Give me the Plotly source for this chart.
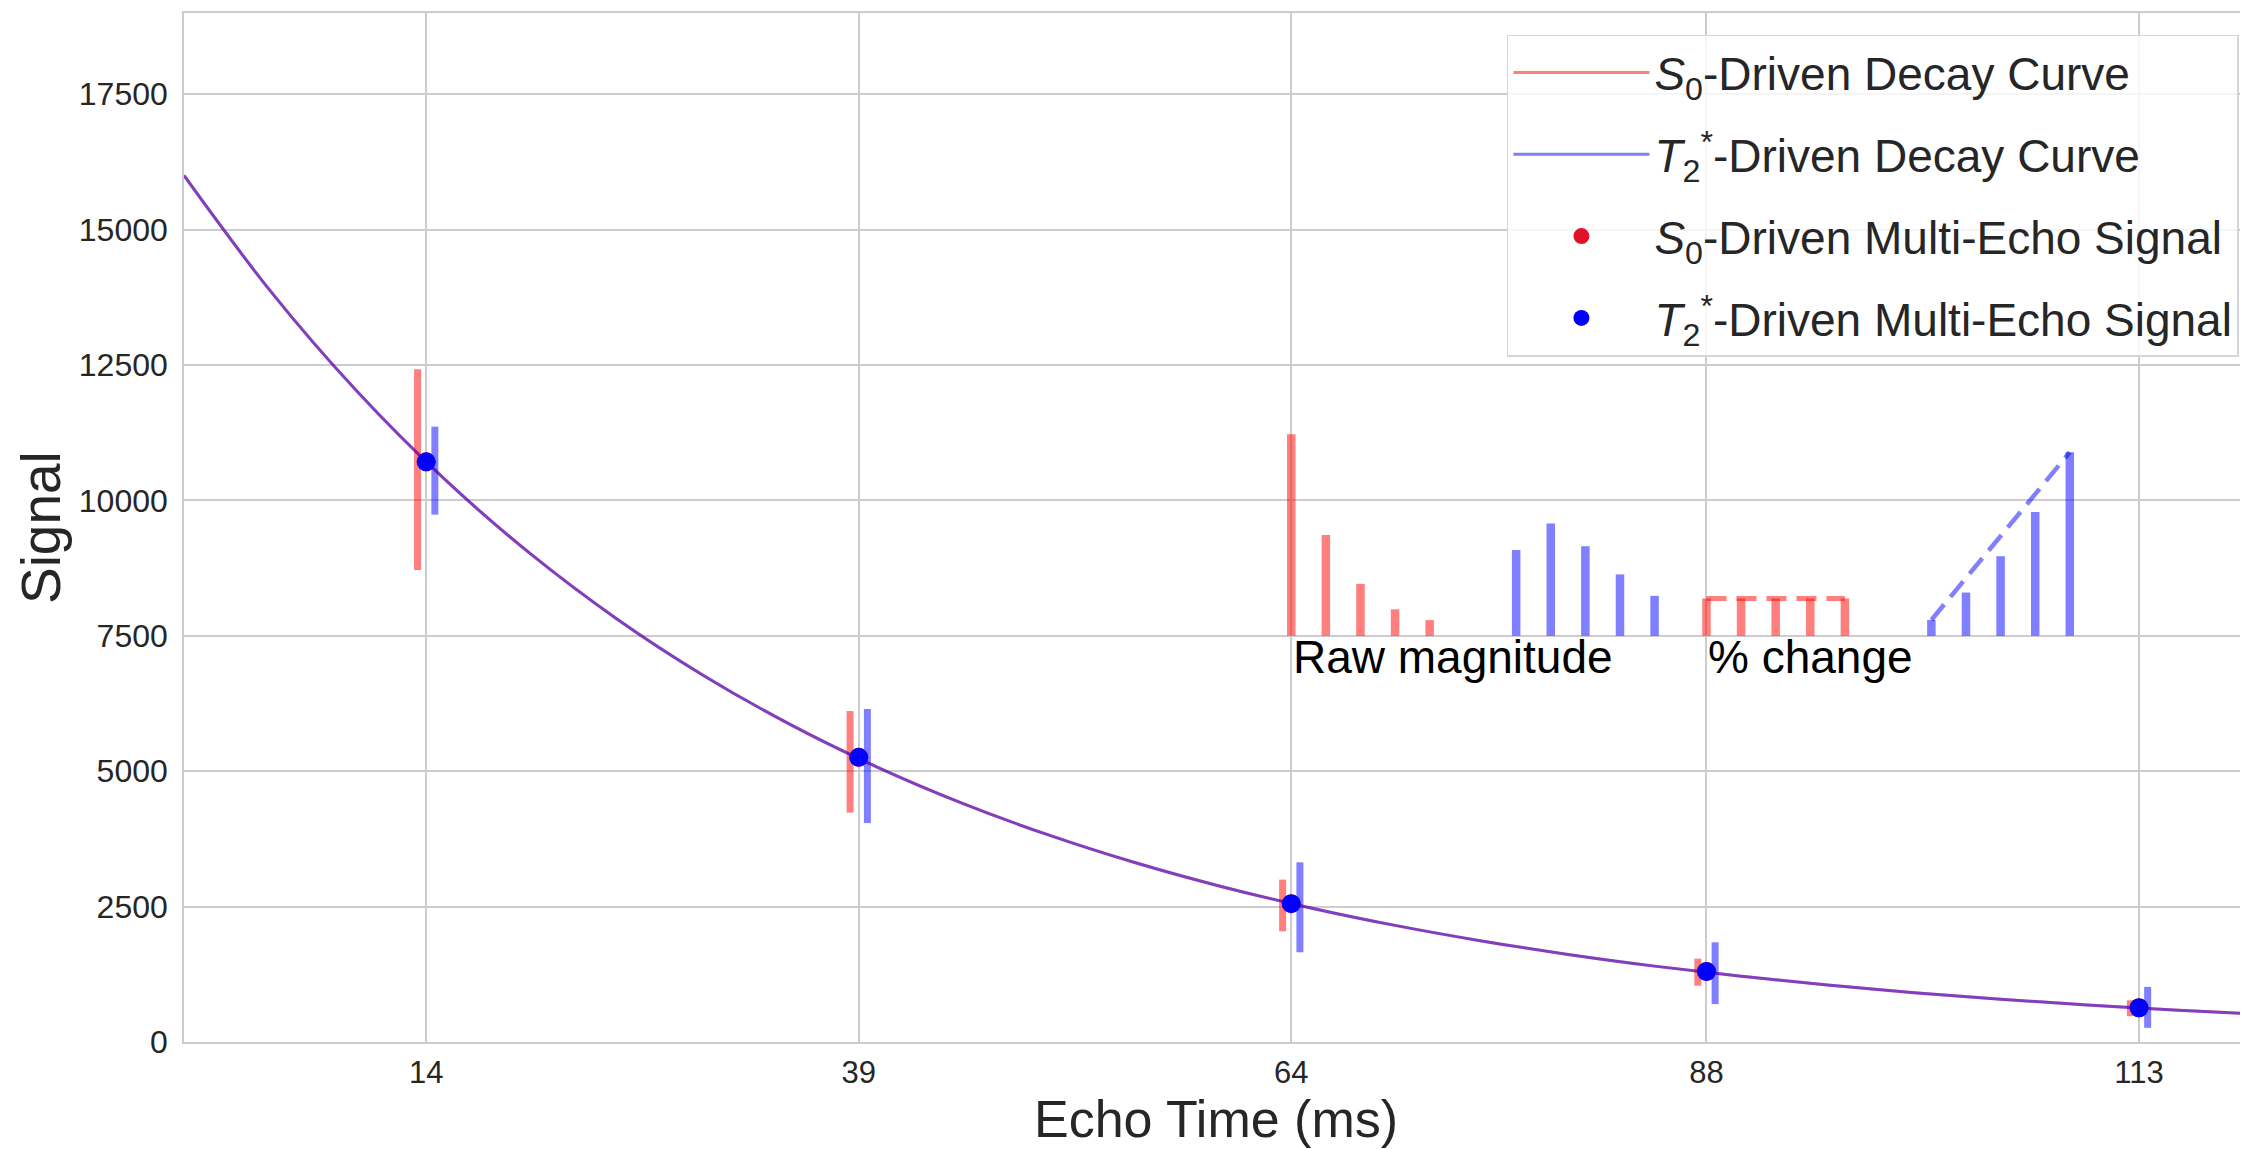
import plotly.graph_objects as go

# ---------------- data ----------------
echo_times = [14, 39, 64, 88, 113]
tick_labels = ["14", "39", "64", "88", "113"]
y_ticks = [0, 2500, 5000, 7500, 10000, 12500, 15000, 17500]
y_tick_labels = ["0", "2500", "5000", "7500", "10000", "12500", "15000", "17500"]

signal_s0 = [10712, 5256, 2555, 1301, 631]
signal_t2 = [10712, 5256, 2555, 1301, 631]

s0_err_low = [8714, 4236, 2044, 1040, 476]
s0_err_high = [12421, 6111, 2998, 1538, 771]
t2_err_low = [9738, 4042, 1657, 700, 262]
t2_err_high = [11362, 6149, 3317, 1841, 1018]

curve_t = [0, 5, 10, 15, 20, 25, 30, 35, 40, 45, 50, 55, 60,
           65, 70, 75, 80, 85, 90, 95, 100, 105, 110, 115, 120]
curve_s0 = [16000, 13864, 12014, 10410, 9021, 7816, 6773, 5869, 5086, 4407,
            3819, 3309, 2867, 2485, 2153, 1866, 1617, 1401, 1214, 1052,
            911, 790, 684, 593, 514]
curve_t2 = [16000, 13864, 12014, 10410, 9021, 7816, 6773, 5869, 5086, 4407,
            3819, 3309, 2867, 2485, 2153, 1866, 1617, 1401, 1214, 1052,
            911, 790, 684, 593, 514]

# inset illustration ("Raw magnitude" / "% change")
inset_base = 7500
raw_s0_x = [64, 66, 68, 70, 72]
raw_s0_top = [11220, 9360, 8460, 7990, 7790]
raw_t2_x = [77, 79, 81, 83, 85]
raw_t2_top = [9085, 9573, 9152, 8634, 8238]
pct_s0_x = [88, 90, 92, 94, 96]
pct_s0_top = [8190, 8190, 8190, 8190, 8190]
pct_t2_x = [101, 103, 105, 107, 109]
pct_t2_top = [7793, 8299, 8970, 9787, 10890]

bar_offset = 0.5

# ---------------- styles ----------------
RED_A = "rgba(255,0,0,0.5)"
BLUE_A = "rgba(0,0,255,0.5)"
FONT = "Liberation Sans, Arial, sans-serif"
TXT = "#262626"
GRID = "#cccccc"


def segments(xs, lows, highs, dx=0.0):
    sx, sy = [], []
    for x, lo, hi in zip(xs, lows, highs):
        sx += [x + dx, x + dx, None]
        sy += [lo, hi, None]
    return sx, sy


fig = go.Figure()

# error bars
ex, ey = segments(echo_times, s0_err_low, s0_err_high, -bar_offset)
fig.add_trace(go.Scatter(x=ex, y=ey, mode="lines", line=dict(color=RED_A, width=7),
                         showlegend=False, hoverinfo="skip"))
ex, ey = segments(echo_times, t2_err_low, t2_err_high, bar_offset)
fig.add_trace(go.Scatter(x=ex, y=ey, mode="lines", line=dict(color=BLUE_A, width=7),
                         showlegend=False, hoverinfo="skip"))

# inset bars
for xs, tops, col in [(raw_s0_x, raw_s0_top, RED_A), (raw_t2_x, raw_t2_top, BLUE_A),
                      (pct_s0_x, pct_s0_top, RED_A), (pct_t2_x, pct_t2_top, BLUE_A)]:
    bx, by = segments(xs, [inset_base] * len(xs), tops)
    fig.add_trace(go.Scatter(x=bx, y=by, mode="lines", line=dict(color=col, width=8.5),
                             showlegend=False, hoverinfo="skip"))

# dashed trend lines
fig.add_trace(go.Scatter(x=[pct_s0_x[0], pct_s0_x[-1]], y=[pct_s0_top[0], pct_s0_top[-1]],
                         mode="lines", line=dict(color=RED_A, width=5, dash="20px,10px"),
                         showlegend=False, hoverinfo="skip"))
fig.add_trace(go.Scatter(x=[pct_t2_x[0], pct_t2_x[-1]], y=[pct_t2_top[0], pct_t2_top[-1]],
                         mode="lines", line=dict(color=BLUE_A, width=4.5, dash="20px,10px"),
                         showlegend=False, hoverinfo="skip"))

# decay curves
fig.add_trace(go.Scatter(x=curve_t, y=curve_s0, mode="lines", line_shape="spline",
                         line=dict(color=RED_A, width=3), legendgroup="a",
                         name="<i>S</i><sub>0</sub>-Driven Decay Curve"))
fig.add_trace(go.Scatter(x=curve_t, y=curve_t2, mode="lines", line_shape="spline",
                         line=dict(color=BLUE_A, width=3), legendgroup="b",
                         name="<i>T</i><sub>2</sub><sup>*</sup>-Driven Decay Curve"))

# multi-echo signal points
fig.add_trace(go.Scatter(x=echo_times, y=signal_s0, mode="markers",
                         marker=dict(color="#e3102a", size=19), legendgroup="c",
                         name="<i>S</i><sub>0</sub>-Driven Multi-Echo Signal"))
fig.add_trace(go.Scatter(x=echo_times, y=signal_t2, mode="markers",
                         marker=dict(color="#0000ff", size=19), legendgroup="d",
                         name="<i>T</i><sub>2</sub><sup>*</sup>-Driven Multi-Echo Signal"))

# annotations
fig.add_annotation(x=raw_s0_x[0], y=7100, text="Raw magnitude", showarrow=False,
                   xanchor="left", yanchor="middle", font=dict(size=46, color="black", family=FONT))
fig.add_annotation(x=pct_s0_x[0], y=7100, text="% change", showarrow=False,
                   xanchor="left", yanchor="middle", font=dict(size=46, color="black", family=FONT))

# axis titles
fig.add_annotation(xref="paper", yref="paper", x=0.5, y=-0.0745, text="Echo Time (ms)",
                   showarrow=False, xanchor="center", yanchor="middle", borderpad=0,
                   font=dict(size=52, color=TXT, family=FONT))
fig.add_annotation(xref="paper", yref="paper", x=-0.0695, y=0.5, text="Signal",
                   showarrow=False, xanchor="center", yanchor="middle", textangle=-90,
                   font=dict(size=55, color=TXT, family=FONT))

# the page body has an 8px margin, so the figure is 8px smaller and margins shifted
fig.update_layout(
    width=2240, height=1141,
    margin=dict(l=176, r=0, t=5, b=107, autoexpand=False),
    paper_bgcolor="white", plot_bgcolor="white",
    font=dict(family=FONT, color=TXT),
    legend=dict(x=0.9956, y=0.979, xanchor="right", yanchor="top",
                bgcolor="rgba(255,255,255,0.8)", bordercolor="#d5d5d5", borderwidth=1.5,
                font=dict(size=46, color=TXT, family=FONT), tracegroupgap=19,
                itemwidth=136),
    xaxis=dict(range=[0, 119.3], tickmode="array", tickvals=echo_times, ticktext=tick_labels,
               showgrid=True, gridcolor=GRID, gridwidth=1.6, zeroline=False,
               showline=True, linecolor=GRID, linewidth=1.6, mirror=True, automargin=False,
               tickfont=dict(size=31, color=TXT), ticklabelstandoff=2),
    yaxis=dict(range=[0, 19000], tickmode="array", tickvals=y_ticks, ticktext=y_tick_labels,
               showgrid=True, gridcolor=GRID, gridwidth=1.6, zeroline=False,
               showline=True, linecolor=GRID, linewidth=1.6, automargin=False,
               tickfont=dict(size=32, color=TXT), ticklabelstandoff=8),
)

fig.write_html("out.html")
